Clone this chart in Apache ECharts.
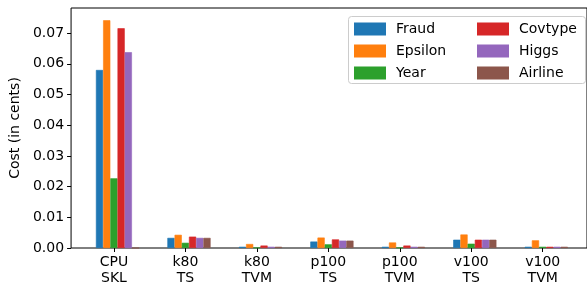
<!DOCTYPE html>
<html>
<head>
<meta charset="utf-8">
<script src="https://cdn.jsdelivr.net/npm/echarts@6/dist/echarts.min.js"></script>
<style>
  html, body { margin: 0; padding: 0; background: #fff; }
  #chart { width: 587px; height: 286px; }
</style>
</head>
<body>
<div id="chart"></div>
<script>
// platforms on the x axis
const categories = ["CPU\nSKL", "k80\nTS", "k80\nTVM", "p100\nTS", "p100\nTVM", "v100\nTS", "v100\nTVM"];
const datasetNames = ["Fraud", "Epsilon", "Year", "Covtype", "Higgs", "Airline"];
const colors = ["#1f77b4", "#ff7f0e", "#2ca02c", "#d62728", "#9467bd", "#8c564b"];

// cost in cents, one array per dataset (same order as categories)
const fraud   = [0.0580, 0.0033, 0.0004, 0.0021, 0.0004, 0.0027, 0.0004];
const epsilon = [0.0742, 0.0043, 0.0013, 0.0034, 0.0018, 0.0044, 0.0025];
const year    = [0.0227, 0.0017, 0.0001, 0.0012, 0.0001, 0.0014, 0.0004];
const covtype = [0.0716, 0.0037, 0.0008, 0.0028, 0.0008, 0.0027, 0.0004];
const higgs   = [0.0638, 0.0033, 0.0004, 0.0024, 0.0004, 0.0027, 0.0004];
const airline = [0,      0.0033, 0.0004, 0.0024, 0.0004, 0.0027, 0.0004];
const values = [fraud, epsilon, year, covtype, higgs, airline];

const yTicks = [0, 0.01, 0.02, 0.03, 0.04, 0.05, 0.06, 0.07];

// bars were drawn at x+(i-2)*0.1, so the group sits a little right of the tick
const groupShift = 0.05;

const font = "DejaVu Sans";
const chart = echarts.init(document.getElementById("chart"));

let series = values.map((vals, s) => ({
    name: datasetNames[s],
    type: "bar",
    barWidth: 7.2,
    barGap: "0%",
    // thin same-colour border hides antialias seams between neighbours
    itemStyle: { color: colors[s], borderColor: colors[s], borderWidth: 0.6 },
    data: vals.map((v, i) => [i + groupShift, v]),
}));

const xTickValues = categories.map((c, i) => i);
const legendText = { color: "#000", fontFamily: font, fontSize: 14, lineHeight: 14, padding: [0, 0, 0, 6] };

let options = {
    animation: false,
    backgroundColor: "#fff",
    textStyle: { fontFamily: font },
    grid: {
        left: 69,
        right: -1,
        top: 8,
        bottom: 37,
        show: true,
        borderColor: "#000",
        borderWidth: 1,
    },
    xAxis: {
        type: "value",
        min: -0.6,
        max: 6.62,
        splitLine: { show: false },
        axisLine: { show: false, onZero: false },
        axisTick: {
            show: true,
            length: 4,
            customValues: xTickValues,
            lineStyle: { color: "#000" },
        },
        axisLabel: {
            customValues: xTickValues,
            formatter: (v) => categories[Math.round(v)],
            color: "#000",
            fontFamily: font,
            fontSize: 14,
            lineHeight: 16,
            margin: 6,
        },
    },
    yAxis: {
        type: "value",
        min: 0,
        max: 0.0782,
        name: "Cost (in cents)",
        nameLocation: "middle",
        nameRotate: 90,
        nameGap: 42,
        nameTextStyle: { color: "#000", fontFamily: font, fontSize: 14 },
        splitLine: { show: false },
        axisLine: { show: false, onZero: false },
        axisTick: { show: true, length: 4, customValues: yTicks, lineStyle: { color: "#000" } },
        axisLabel: {
            customValues: yTicks,
            color: "#000",
            fontFamily: font,
            fontSize: 14,
            margin: 7,
            formatter: (v) => v.toFixed(2),
        },
    },
    graphic: [
        {
            type: "rect",
            z: 90,
            shape: { x: 348.5, y: 16.5, width: 237, height: 67, r: 3 },
            style: { fill: "rgba(255,255,255,0.8)", stroke: "#cccccc", lineWidth: 1 },
        },
    ],
    legend: [
        {
            data: datasetNames.slice(0, 3),
            orient: "vertical",
            left: 354,
            top: 22,
            padding: 0,
            z: 100,
            itemWidth: 30,
            itemHeight: 11,
            itemGap: 8,
            icon: "rect",
            textStyle: legendText,
        },
        {
            data: datasetNames.slice(3),
            orient: "vertical",
            left: 477,
            top: 22,
            padding: 0,
            z: 100,
            itemWidth: 30,
            itemHeight: 11,
            itemGap: 8,
            icon: "rect",
            textStyle: legendText,
        },
    ],
    series: series,
};
chart.setOption(options);
</script>
</body>
</html>
